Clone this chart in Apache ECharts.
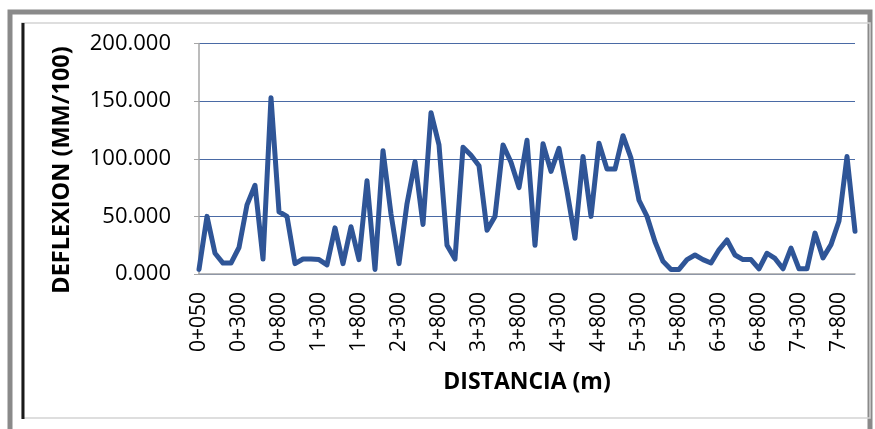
<!DOCTYPE html>
<html>
<head>
<meta charset="utf-8">
<script src="https://cdn.jsdelivr.net/npm/echarts@6/dist/echarts.min.js"></script>
<style>
  html, body { margin: 0; padding: 0; background: #ffffff; }
  #chart { width: 875px; height: 429px; }
</style>
</head>
<body>
<div id="chart"></div>
<script>
// Stations along the road (km+m)
const stations = [
  '0+050','0+100','0+150','0+200','0+250','0+300','0+400','0+500','0+600','0+700',
  '0+800','0+900','1+000','1+100','1+200','1+300','1+400','1+500','1+600','1+700',
  '1+800','1+900','2+000','2+100','2+200','2+300','2+400','2+500','2+600','2+700',
  '2+800','2+900','3+000','3+100','3+200','3+300','3+400','3+500','3+600','3+700',
  '3+800','3+900','4+000','4+100','4+200','4+300','4+400','4+500','4+600','4+700',
  '4+800','4+900','5+000','5+100','5+200','5+300','5+400','5+500','5+600','5+700',
  '5+800','5+900','6+000','6+100','6+200','6+300','6+400','6+500','6+600','6+700',
  '6+800','6+900','7+000','7+100','7+200','7+300','7+400','7+500','7+600','7+700',
  '7+800','7+900','8+000'
];

// Measured deflection (mm/100) at each station
const deflexion = [
  4, 50, 18, 9.5, 9.5, 23, 60, 77, 13, 153,
  54, 50, 9, 13, 13, 12.5, 8, 40, 9, 41,
  12.5, 81, 4, 107, 52, 9, 61, 97.5, 43, 140,
  112, 25, 13, 110, 103, 94, 38, 50, 112, 97,
  75, 116, 25, 113, 89, 109, 72, 31, 102, 50,
  113.5, 91, 91, 120, 100.5, 64, 50, 28, 11, 4,
  4, 12.5, 16.5, 12.5, 9.5, 21, 29.5, 16.5, 12.5, 12.5,
  4.5, 18, 13.5, 4.5, 22.5, 4.5, 4.5, 35.5, 14, 25.5,
  46, 102, 37
];

// Value axis ticks
const yTicks = { min: 0, max: 200, step: 50 };

const yTitle = 'DEFLEXION (MM/100)';
const xTitle = 'DISTANCIA (m)';

const font = "'Open Sans', 'Liberation Sans', sans-serif";

const chart = echarts.init(document.getElementById('chart'), null, { renderer: 'canvas' });

chart.setOption({
  animation: false,
  backgroundColor: '#ffffff',
  grid: { left: 199, right: 20, top: 43.5, bottom: 155, containLabel: false },
  graphic: [
    // outer frame
    { type: 'rect', silent: true, z: -1,
      shape: { x: 10, y: 12, width: 860, height: 440 },
      style: { fill: 'none', stroke: '#8a8a8a', lineWidth: 5 } },
    // inner panel border
    { type: 'rect', silent: true, z: -1,
      shape: { x: 22, y: 23, width: 848, height: 395 },
      style: { fill: 'none', stroke: '#d4d4d4', lineWidth: 1.5 } },
    { type: 'line', silent: true, z: -1,
      shape: { x1: 23, y1: 23, x2: 23, y2: 419 },
      style: { stroke: '#1a1a1a', lineWidth: 3 } },
    // vertical axis title
    { type: 'text', silent: true,
      x: 62, y: 170, rotation: Math.PI / 2,
      style: {
        text: yTitle, fontFamily: font, fontWeight: 'bold', fontSize: 23.5,
        fill: '#000', align: 'center', verticalAlign: 'middle'
      } }
  ],
  xAxis: {
    type: 'category',
    data: stations,
    boundaryGap: false,
    name: xTitle,
    nameLocation: 'middle',
    nameGap: 97,
    nameTextStyle: { fontFamily: font, fontWeight: 'bold', fontSize: 23, color: '#000' },
    axisLine: { lineStyle: { color: '#a6a6a6', width: 1.5 } },
    axisTick: { show: false },
    axisLabel: {
      interval: 4,
      rotate: 90,
      margin: 18,
      fontFamily: font,
      fontSize: 21,
      color: '#000'
    },
    splitLine: { show: false }
  },
  yAxis: {
    type: 'value',
    min: yTicks.min,
    max: yTicks.max,
    interval: yTicks.step,
    axisLine: { show: true, lineStyle: { color: '#a6a6a6', width: 1.5 } },
    axisTick: { show: true, length: 5, lineStyle: { color: '#a6a6a6' } },
    axisLabel: {
      margin: 28,
      fontFamily: font,
      fontSize: 22,
      color: '#000',
      formatter: v => v.toFixed(3)
    },
    splitLine: { lineStyle: { color: '#4a6aa5', width: 1.2 } }
  },
  series: [{
    type: 'line',
    data: deflexion,
    showSymbol: false,
    symbol: 'none',
    lineStyle: { color: '#2f5597', width: 5, join: 'round', cap: 'round' }
  }]
});
</script>
</body>
</html>
